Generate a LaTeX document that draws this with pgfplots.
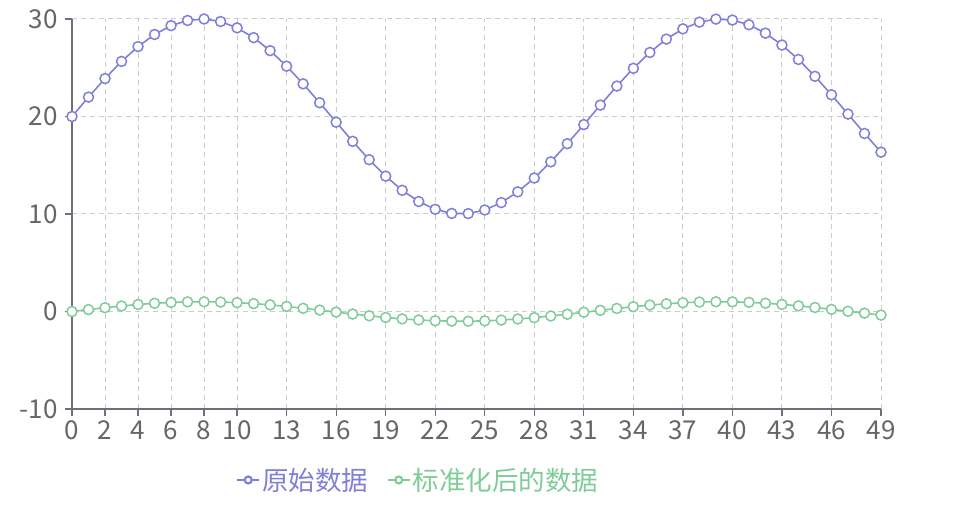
\documentclass[border=0pt]{standalone}
\usepackage{fontspec}
\setmainfont{Noto Sans CJK SC}
\usepackage{pgfplots}
\pgfplotsset{compat=1.18}
\definecolor{cpurple}{HTML}{8080D8}
\definecolor{cgreen}{HTML}{80CC99}
\definecolor{axgray}{HTML}{6E7079}
\definecolor{gridgray}{HTML}{CCCCCC}
\definecolor{lblgray}{HTML}{666666}
\begin{document}
\begin{tikzpicture}
\useasboundingbox (-72pt,-96pt) rectangle (897pt,409pt);
\begin{axis}[
  scale only axis, width=809pt, height=390pt,
  xmin=0, xmax=49, ymin=-10, ymax=30,
  xtick={0,2,4,6,8,10,13,16,19,22,25,28,31,34,37,40,43,46,49},
  ytick={-10,0,10,20,30},
  axis lines*=left,
  axis line style={axgray, line width=1.3pt},
  tick align=outside,
  major tick length=7pt,
  tick style={axgray, line width=1.3pt},
  grid=major,
  major grid style={gridgray, line width=1pt, dash pattern=on 5pt off 4pt},
  ticklabel style={font=\fontsize{26}{30}\selectfont, text=lblgray},
  yticklabel style={xshift=-4pt},
  xticklabel style={yshift=-1pt},
  /pgf/number format/assume math mode=true,
  legend style={at={(0.428,-0.182)}, anchor=center, draw=none, fill=none,
    legend columns=2, font=\fontsize{26.5}{30}\selectfont,
    /tikz/every even column/.append style={column sep=16pt}},
  legend image code/.code={\draw[line width=2.5pt, mark size=3.5pt, mark options={line width=2.2pt, fill=white}, mark repeat=2, mark phase=2] plot coordinates {(0pt,0pt) (11pt,0pt) (22pt,0pt)};},
  every axis plot/.append style={line width=1.6pt, mark=*, mark size=5pt},
  clip=false,
]
\addplot[cpurple, mark options={fill=white, draw=cpurple, line width=1.5pt}] table {
x y
0 20.00
1 21.99
2 23.89
3 25.65
4 27.17
5 28.41
6 29.32
7 29.85
8 30.00
9 29.74
10 29.09
11 28.09
12 26.75
13 25.16
14 23.35
15 21.41
16 19.42
17 17.45
18 15.57
19 13.88
20 12.43
21 11.28
22 10.48
23 10.06
24 10.04
25 10.41
26 11.17
27 12.27
28 13.69
29 15.35
30 17.21
31 19.17
32 21.17
33 23.12
34 24.94
35 26.57
36 27.94
37 28.99
38 29.68
39 29.99
40 29.89
41 29.41
42 28.55
43 27.33
44 25.85
45 24.12
46 22.23
47 20.25
48 18.26
49 16.34
};
\addlegendentry{\textcolor{cpurple}{原始数据}}
\addplot[cgreen, mark options={fill=white, draw=cgreen, line width=1.5pt}] table {
x y
0 0.00
1 0.20
2 0.39
3 0.56
4 0.72
5 0.84
6 0.93
7 0.99
8 1.00
9 0.97
10 0.91
11 0.81
12 0.68
13 0.52
14 0.33
15 0.14
16 -0.06
17 -0.26
18 -0.44
19 -0.61
20 -0.76
21 -0.87
22 -0.95
23 -0.99
24 -1.00
25 -0.96
26 -0.88
27 -0.77
28 -0.63
29 -0.46
30 -0.28
31 -0.08
32 0.12
33 0.31
34 0.49
35 0.66
36 0.79
37 0.90
38 0.97
39 1.00
40 0.99
41 0.94
42 0.85
43 0.73
44 0.58
45 0.41
46 0.22
47 0.02
48 -0.17
49 -0.37
};
\addlegendentry{\textcolor{cgreen}{标准化后的数据}}
\end{axis}
\end{tikzpicture}
\end{document}
